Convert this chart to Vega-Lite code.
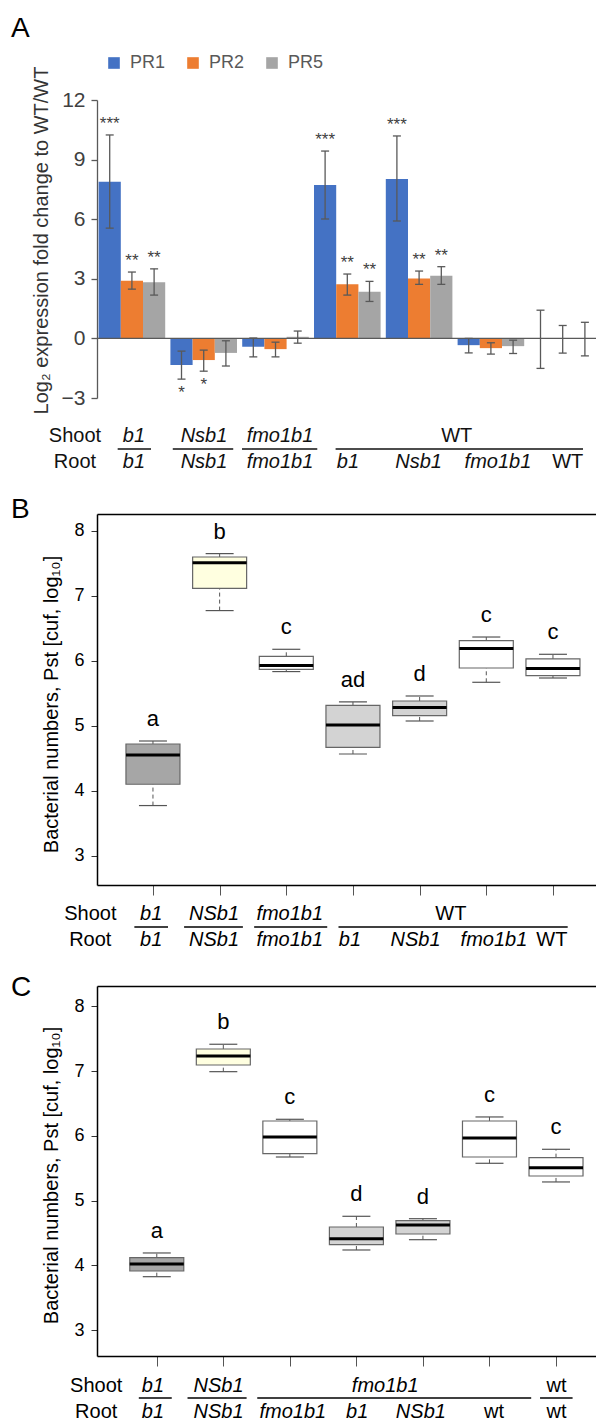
{
  "$schema": "https://vega.github.io/schema/vega-lite/v6.json",
  "background": "white",
  "padding": {"left": 11, "top": 15, "right": 0, "bottom": 0},
  "spacing": 23,
  "config": {
    "view": {"stroke": null},
    "font": "Liberation Sans",
    "axis": {"grid": false},
    "title": {"fontSize": 28, "fontWeight": "normal", "color": "#000", "anchor": "start", "frame": "group", "baseline": "alphabetic", "dx": -86}
  },
  "datasets": {
    "expr": [
      {"grp": "b1/b1", "series": "PR1", "value": 7.89, "lo": 5.55, "hi": 10.24, "sig": "***"},
      {"grp": "b1/b1", "series": "PR2", "value": 2.90, "lo": 2.48, "hi": 3.34, "sig": "**"},
      {"grp": "b1/b1", "series": "PR5", "value": 2.83, "lo": 2.18, "hi": 3.50, "sig": "**"},
      {"grp": "Nsb1/Nsb1", "series": "PR1", "value": -1.34, "lo": -2.05, "hi": -0.64, "sig": "*"},
      {"grp": "Nsb1/Nsb1", "series": "PR2", "value": -1.09, "lo": -1.65, "hi": -0.59, "sig": "*"},
      {"grp": "Nsb1/Nsb1", "series": "PR5", "value": -0.73, "lo": -1.39, "hi": -0.12, "sig": ""},
      {"grp": "fmo1b1/fmo1b1", "series": "PR1", "value": -0.42, "lo": -0.93, "hi": 0.02, "sig": ""},
      {"grp": "fmo1b1/fmo1b1", "series": "PR2", "value": -0.54, "lo": -0.93, "hi": -0.19, "sig": ""},
      {"grp": "fmo1b1/fmo1b1", "series": "PR5", "value": 0.08, "lo": -0.24, "hi": 0.37, "sig": ""},
      {"grp": "WT/b1", "series": "PR1", "value": 7.72, "lo": 6.01, "hi": 9.43, "sig": "***"},
      {"grp": "WT/b1", "series": "PR2", "value": 2.72, "lo": 2.18, "hi": 3.24, "sig": "**"},
      {"grp": "WT/b1", "series": "PR5", "value": 2.35, "lo": 1.86, "hi": 2.87, "sig": "**"},
      {"grp": "WT/Nsb1", "series": "PR1", "value": 8.02, "lo": 5.91, "hi": 10.19, "sig": "***"},
      {"grp": "WT/Nsb1", "series": "PR2", "value": 3.02, "lo": 2.72, "hi": 3.39, "sig": "**"},
      {"grp": "WT/Nsb1", "series": "PR5", "value": 3.15, "lo": 2.72, "hi": 3.61, "sig": "**"},
      {"grp": "WT/fmo1b1", "series": "PR1", "value": -0.34, "lo": -0.73, "hi": 0.0, "sig": ""},
      {"grp": "WT/fmo1b1", "series": "PR2", "value": -0.49, "lo": -0.79, "hi": -0.22, "sig": ""},
      {"grp": "WT/fmo1b1", "series": "PR5", "value": -0.39, "lo": -0.76, "hi": -0.09, "sig": ""},
      {"grp": "WT/WT", "series": "PR1", "value": 0, "lo": -1.51, "hi": 1.42, "sig": ""},
      {"grp": "WT/WT", "series": "PR2", "value": 0, "lo": -0.74, "hi": 0.65, "sig": ""},
      {"grp": "WT/WT", "series": "PR5", "value": 0, "lo": -0.88, "hi": 0.81, "sig": ""}
    ],
    "labA": [
      {"t": "Shoot", "x": -0.309, "y": -4.92},
      {"t": "Root", "x": -0.309, "y": -6.23},
      {"t": "b1", "x": 0.519, "y": -4.92},
      {"t": "b1", "x": 0.519, "y": -6.23},
      {"t": "Nsb1", "x": 1.501, "y": -4.92},
      {"t": "Nsb1", "x": 1.501, "y": -6.23},
      {"t": "fmo1b1", "x": 2.567, "y": -4.92},
      {"t": "fmo1b1", "x": 2.567, "y": -6.23},
      {"t": "WT", "x": 5.047, "y": -4.92},
      {"t": "b1", "x": 3.52, "y": -6.23},
      {"t": "Nsb1", "x": 4.511, "y": -6.23},
      {"t": "fmo1b1", "x": 5.625, "y": -6.23},
      {"t": "WT", "x": 6.603, "y": -6.23}
    ],
    "linA": [
      {"x1": 0.290, "x2": 0.758, "y": -5.57},
      {"x1": 1.063, "x2": 1.911, "y": -5.57},
      {"x1": 2.034, "x2": 3.090, "y": -5.57},
      {"x1": 3.347, "x2": 6.818, "y": -5.57}
    ],
    "boxB": [
      {"g": "b1/b1", "pos": 1, "lo": 3.770, "q1": 4.098, "med": 4.549, "q3": 4.718, "hi": 4.764, "letter": "a"},
      {"g": "NSb1/NSb1", "pos": 2, "lo": 6.772, "q1": 7.115, "med": 7.510, "q3": 7.597, "hi": 7.649, "letter": "b"},
      {"g": "fmo1b1/fmo1b1", "pos": 3, "lo": 5.833, "q1": 5.868, "med": 5.925, "q3": 6.068, "hi": 6.176, "letter": "c"},
      {"g": "WT/b1", "pos": 4, "lo": 4.564, "q1": 4.667, "med": 5.010, "q3": 5.314, "hi": 5.365, "letter": "ad"},
      {"g": "WT/NSb1", "pos": 5, "lo": 5.072, "q1": 5.155, "med": 5.278, "q3": 5.380, "hi": 5.457, "letter": "d"},
      {"g": "WT/fmo1b1", "pos": 6, "lo": 5.668, "q1": 5.888, "med": 6.187, "q3": 6.310, "hi": 6.365, "letter": "c"},
      {"g": "WT/WT", "pos": 7, "lo": 5.734, "q1": 5.771, "med": 5.879, "q3": 6.027, "hi": 6.099, "letter": "c"}
    ],
    "labB": [
      {"t": "Shoot", "x": 0.06, "y": 2.10},
      {"t": "Root", "x": 0.06, "y": 1.70},
      {"t": "b1", "x": 0.974, "y": 2.10},
      {"t": "b1", "x": 0.974, "y": 1.70},
      {"t": "NSb1", "x": 1.917, "y": 2.10},
      {"t": "NSb1", "x": 1.917, "y": 1.70},
      {"t": "fmo1b1", "x": 3.052, "y": 2.10},
      {"t": "fmo1b1", "x": 3.052, "y": 1.70},
      {"t": "WT", "x": 5.469, "y": 2.10},
      {"t": "b1", "x": 3.955, "y": 1.70},
      {"t": "NSb1", "x": 4.939, "y": 1.70},
      {"t": "fmo1b1", "x": 6.115, "y": 1.70},
      {"t": "WT", "x": 6.983, "y": 1.70}
    ],
    "linB": [
      {"x1": 0.721, "x2": 1.226, "y": 1.90},
      {"x1": 1.467, "x2": 2.349, "y": 1.90},
      {"x1": 2.518, "x2": 3.614, "y": 1.90},
      {"x1": 3.783, "x2": 7.221, "y": 1.90}
    ],
    "boxC": [
      {"g": "b1/b1", "pos": 1, "lo": 3.827, "q1": 3.915, "med": 4.023, "q3": 4.120, "hi": 4.193, "letter": "a"},
      {"g": "NSb1/NSb1", "pos": 2, "lo": 6.991, "q1": 7.094, "med": 7.233, "q3": 7.341, "hi": 7.414, "letter": "b"},
      {"g": "fmo1b1/fmo1b1", "pos": 3, "lo": 5.674, "q1": 5.725, "med": 5.983, "q3": 6.230, "hi": 6.256, "letter": "c"},
      {"g": "fmo1b1/b1", "pos": 4, "lo": 4.239, "q1": 4.321, "med": 4.414, "q3": 4.594, "hi": 4.759, "letter": "d"},
      {"g": "fmo1b1/NSb1", "pos": 5, "lo": 4.398, "q1": 4.486, "med": 4.625, "q3": 4.691, "hi": 4.722, "letter": "d"},
      {"g": "fmo1b1/wt", "pos": 6, "lo": 5.577, "q1": 5.674, "med": 5.968, "q3": 6.230, "hi": 6.292, "letter": "c"},
      {"g": "wt/wt", "pos": 7, "lo": 5.289, "q1": 5.381, "med": 5.509, "q3": 5.664, "hi": 5.793, "letter": "c"}
    ],
    "labC": [
      {"t": "Shoot", "x": 0.09, "y": 2.135},
      {"t": "Root", "x": 0.09, "y": 1.745},
      {"t": "b1", "x": 0.943, "y": 2.135},
      {"t": "b1", "x": 0.943, "y": 1.745},
      {"t": "NSb1", "x": 1.929, "y": 2.135},
      {"t": "NSb1", "x": 1.929, "y": 1.745},
      {"t": "fmo1b1", "x": 4.433, "y": 2.135},
      {"t": "wt", "x": 7.007, "y": 2.135},
      {"t": "fmo1b1", "x": 3.044, "y": 1.745},
      {"t": "b1", "x": 4.012, "y": 1.745},
      {"t": "NSb1", "x": 4.969, "y": 1.745},
      {"t": "wt", "x": 6.068, "y": 1.745},
      {"t": "wt", "x": 7.007, "y": 1.745}
    ],
    "linC": [
      {"x1": 0.730, "x2": 1.225, "y": 1.955},
      {"x1": 1.462, "x2": 2.350, "y": 1.955},
      {"x1": 2.510, "x2": 6.627, "y": 1.955},
      {"x1": 6.760, "x2": 7.249, "y": 1.955}
    ]
  },
  "vconcat": [
    {
      "title": {"text": "A", "offset": 11},
      "width": 499,
      "height": 298,
      "resolve": {"scale": {"x": "independent"}},
      "layer": [
        {
          "data": {"name": "expr"},
          "encoding": {
            "x": {"field": "grp", "type": "nominal", "axis": null,
                  "scale": {"type": "band", "domain": ["b1/b1", "Nsb1/Nsb1", "fmo1b1/fmo1b1", "WT/b1", "WT/Nsb1", "WT/fmo1b1", "WT/WT"], "paddingInner": 0.0724, "paddingOuter": 0.0112, "align": 1, "round": false}},
            "xOffset": {"field": "series", "type": "nominal", "scale": {"domain": ["PR1", "PR2", "PR5"], "paddingInner": 0, "paddingOuter": 0}}
          },
          "layer": [
            {
              "mark": {"type": "bar"},
              "encoding": {
                "y": {"field": "value", "type": "quantitative", "scale": {"domain": [-3, 12], "nice": false, "zero": false},
                      "axis": {"values": [-3, 0, 3, 6, 9, 12], "grid": false, "domainColor": "#595959", "domainWidth": 1.3, "tickColor": "#595959", "tickSize": 6, "tickWidth": 1.3, "labelFontSize": 21, "labelColor": "#404040", "labelPadding": 6,
                               "title": "Log₂ expression fold change to WT/WT", "titleFontSize": 20, "titleFontWeight": "normal", "titleColor": "#333", "titleAngle": 270, "titleAlign": "center", "titleBaseline": "middle", "titleX": -55.5, "titleY": 140}},
                "color": {"field": "series", "type": "nominal",
                          "scale": {"domain": ["PR1", "PR2", "PR5"], "range": ["#4472C4", "#ED7D31", "#A5A5A5"]},
                          "legend": {"orient": "none", "legendX": 8, "legendY": -46, "direction": "horizontal", "title": null, "symbolType": "square", "symbolSize": 135, "symbolStrokeWidth": 0, "symbolOpacity": 1, "labelFontSize": 18, "labelColor": "#595959", "columnPadding": 18, "labelOffset": 7}}
              }
            },
            {
              "mark": {"type": "rule", "color": "#595959", "strokeWidth": 1.3},
              "encoding": {
                "y": {"field": "lo", "type": "quantitative", "scale": {"domain": [-3, 12], "nice": false, "zero": false}},
                "y2": {"field": "hi"}
              }
            },
            {
              "mark": {"type": "tick", "orient": "horizontal", "size": 8, "thickness": 1.3, "color": "#595959", "opacity": 1},
              "encoding": {"y": {"field": "lo", "type": "quantitative", "scale": {"domain": [-3, 12], "nice": false, "zero": false}}}
            },
            {
              "mark": {"type": "tick", "orient": "horizontal", "size": 8, "thickness": 1.3, "color": "#595959", "opacity": 1},
              "encoding": {"y": {"field": "hi", "type": "quantitative", "scale": {"domain": [-3, 12], "nice": false, "zero": false}}}
            },
            {
              "transform": [{"filter": "datum.sig != '' && datum.value > 0"}],
              "mark": {"type": "text", "dy": -6, "fontSize": 17, "color": "#404040", "baseline": "alphabetic"},
              "encoding": {
                "y": {"field": "hi", "type": "quantitative", "scale": {"domain": [-3, 12], "nice": false, "zero": false}},
                "text": {"field": "sig"}
              }
            },
            {
              "transform": [{"filter": "datum.sig != '' && datum.value < 0"}],
              "mark": {"type": "text", "dy": 19, "fontSize": 17, "color": "#404040", "baseline": "alphabetic"},
              "encoding": {
                "y": {"field": "lo", "type": "quantitative", "scale": {"domain": [-3, 12], "nice": false, "zero": false}},
                "text": {"field": "sig"}
              }
            }
          ]
        },
        {
          "data": {"values": [{}]},
          "mark": {"type": "rule", "color": "#595959", "strokeWidth": 1.3},
          "encoding": {"y": {"datum": 0, "type": "quantitative", "scale": {"domain": [-3, 12], "nice": false, "zero": false}}}
        },
        {
          "data": {"name": "labA"},
          "encoding": {
            "x": {"field": "x", "type": "quantitative", "scale": {"domain": [0, 7], "nice": false, "zero": false}, "axis": null},
            "y": {"field": "y", "type": "quantitative", "scale": {"domain": [-3, 12], "nice": false, "zero": false}},
            "text": {"field": "t"}
          },
          "layer": [
            {"transform": [{"filter": "indexof(['Shoot','Root','WT','wt'], datum.t) < 0"}], "mark": {"type": "text", "fontStyle": "italic", "fontSize": 20, "baseline": "middle", "color": "#111"}},
            {"transform": [{"filter": "indexof(['Shoot','Root','WT','wt'], datum.t) >= 0"}], "mark": {"type": "text", "fontSize": 20, "baseline": "middle", "color": "#111"}}
          ]
        },
        {
          "data": {"name": "linA"},
          "mark": {"type": "rule", "color": "#111", "strokeWidth": 1.6},
          "encoding": {
            "x": {"field": "x1", "type": "quantitative", "scale": {"domain": [0, 7], "nice": false, "zero": false}, "axis": null},
            "x2": {"field": "x2"},
            "y": {"field": "y", "type": "quantitative", "scale": {"domain": [-3, 12], "nice": false, "zero": false}}
          }
        }
      ]
    },
    {
      "title": {"text": "B", "offset": -10},
      "width": 499,
      "height": 371,
      "resolve": {"axis": {"x": "independent"}},
      "layer": [
        {
          "data": {"name": "boxB"},
          "encoding": {
            "x": {"field": "pos", "type": "quantitative", "scale": {"domain": [0.2356, 7.5706], "nice": false, "zero": false},
                  "axis": {"values": [1, 2, 3, 4, 5, 6, 7], "labels": false, "grid": false, "domainColor": "#000", "domainWidth": 1.5, "tickColor": "#555", "tickSize": 10, "tickWidth": 1, "title": null}}
          },
          "layer": [
            {"mark": {"type": "rule", "strokeDash": [4, 3], "color": "#555", "strokeWidth": 1},
             "encoding": {"y": {"field": "lo", "type": "quantitative", "scale": {"domain": [2.547, 8.259], "nice": false, "zero": false}}, "y2": {"field": "q1"}}},
            {"mark": {"type": "rule", "strokeDash": [4, 3], "color": "#555", "strokeWidth": 1},
             "encoding": {"y": {"field": "q3", "type": "quantitative", "scale": {"domain": [2.547, 8.259], "nice": false, "zero": false}}, "y2": {"field": "hi"}}},
            {"mark": {"type": "tick", "orient": "horizontal", "size": 28, "thickness": 1.2, "color": "#555", "opacity": 1},
             "encoding": {"y": {"field": "lo", "type": "quantitative", "scale": {"domain": [2.547, 8.259], "nice": false, "zero": false}}}},
            {"mark": {"type": "tick", "orient": "horizontal", "size": 28, "thickness": 1.2, "color": "#555", "opacity": 1},
             "encoding": {"y": {"field": "hi", "type": "quantitative", "scale": {"domain": [2.547, 8.259], "nice": false, "zero": false}}}},
            {"mark": {"type": "bar", "size": 54, "stroke": "#666", "strokeWidth": 1.2},
             "encoding": {
               "y": {"field": "q1", "type": "quantitative", "scale": {"domain": [2.547, 8.259], "nice": false, "zero": false},
                     "axis": {"values": [3, 4, 5, 6, 7, 8], "format": "d", "grid": false, "domainColor": "#000", "domainWidth": 1.5, "tickColor": "#333", "tickSize": 6, "tickWidth": 1, "labelFontSize": 18, "labelColor": "#000", "labelPadding": 7,
                              "title": "Bacterial numbers, Pst [cuf, log₁₀]", "titleFontSize": 20, "titleFontWeight": "normal", "titleColor": "#000", "titleAngle": 270, "titleAlign": "center", "titleBaseline": "middle", "titleX": -45.5, "titleY": 190}},
               "y2": {"field": "q3"},
               "fill": {"field": "g", "type": "nominal", "legend": null,
                        "scale": {"domain": ["b1/b1", "NSb1/NSb1", "fmo1b1/fmo1b1", "WT/b1", "WT/NSb1", "WT/fmo1b1", "WT/WT"], "range": ["#a6a6a6", "#ffffe0", "#ffffff", "#d3d3d3", "#d3d3d3", "#ffffff", "#ffffff"]}}
             }},
            {"mark": {"type": "tick", "orient": "horizontal", "size": 54, "thickness": 3, "color": "#000", "opacity": 1},
             "encoding": {"y": {"field": "med", "type": "quantitative", "scale": {"domain": [2.547, 8.259], "nice": false, "zero": false}}}},
            {"mark": {"type": "text", "dy": -15, "fontSize": 22, "baseline": "alphabetic", "color": "#000"},
             "encoding": {"y": {"field": "hi", "type": "quantitative", "scale": {"domain": [2.547, 8.259], "nice": false, "zero": false}}, "text": {"field": "letter"}}}
          ]
        },
        {
          "data": {"name": "labB"},
          "encoding": {
            "x": {"field": "x", "type": "quantitative", "scale": {"domain": [0.2356, 7.5706], "nice": false, "zero": false},
                  "axis": {"orient": "top", "ticks": false, "labels": false, "grid": false, "domainColor": "#000", "domainWidth": 1.5, "title": null}},
            "y": {"field": "y", "type": "quantitative", "scale": {"domain": [2.547, 8.259], "nice": false, "zero": false}},
            "text": {"field": "t"}
          },
          "layer": [
            {"transform": [{"filter": "indexof(['Shoot','Root','WT','wt'], datum.t) < 0"}], "mark": {"type": "text", "fontStyle": "italic", "fontSize": 20, "baseline": "middle", "color": "#000"}},
            {"transform": [{"filter": "indexof(['Shoot','Root','WT','wt'], datum.t) >= 0"}], "mark": {"type": "text", "fontSize": 20, "baseline": "middle", "color": "#000"}}
          ]
        },
        {
          "data": {"name": "linB"},
          "mark": {"type": "rule", "color": "#000", "strokeWidth": 1.6},
          "encoding": {
            "x": {"field": "x1", "type": "quantitative", "scale": {"domain": [0.2356, 7.5706], "nice": false, "zero": false}, "axis": null},
            "x2": {"field": "x2"},
            "y": {"field": "y", "type": "quantitative", "scale": {"domain": [2.547, 8.259], "nice": false, "zero": false}}
          }
        }
      ]
    },
    {
      "title": {"text": "C", "offset": -16},
      "width": 499,
      "height": 370,
      "resolve": {"axis": {"x": "independent"}},
      "layer": [
        {
          "data": {"name": "boxC"},
          "encoding": {
            "x": {"field": "pos", "type": "quantitative", "scale": {"domain": [0.1767, 7.5258], "nice": false, "zero": false},
                  "axis": {"values": [1, 2, 3, 4, 5, 6, 7], "labels": false, "grid": false, "domainColor": "#000", "domainWidth": 1.5, "tickColor": "#555", "tickSize": 10, "tickWidth": 1, "title": null}}
          },
          "layer": [
            {"mark": {"type": "rule", "strokeDash": [4, 3], "color": "#555", "strokeWidth": 1},
             "encoding": {"y": {"field": "lo", "type": "quantitative", "scale": {"domain": [2.603, 8.313], "nice": false, "zero": false}}, "y2": {"field": "q1"}}},
            {"mark": {"type": "rule", "strokeDash": [4, 3], "color": "#555", "strokeWidth": 1},
             "encoding": {"y": {"field": "q3", "type": "quantitative", "scale": {"domain": [2.603, 8.313], "nice": false, "zero": false}}, "y2": {"field": "hi"}}},
            {"mark": {"type": "tick", "orient": "horizontal", "size": 28, "thickness": 1.2, "color": "#555", "opacity": 1},
             "encoding": {"y": {"field": "lo", "type": "quantitative", "scale": {"domain": [2.603, 8.313], "nice": false, "zero": false}}}},
            {"mark": {"type": "tick", "orient": "horizontal", "size": 28, "thickness": 1.2, "color": "#555", "opacity": 1},
             "encoding": {"y": {"field": "hi", "type": "quantitative", "scale": {"domain": [2.603, 8.313], "nice": false, "zero": false}}}},
            {"mark": {"type": "bar", "size": 54, "stroke": "#666", "strokeWidth": 1.2},
             "encoding": {
               "y": {"field": "q1", "type": "quantitative", "scale": {"domain": [2.603, 8.313], "nice": false, "zero": false},
                     "axis": {"values": [3, 4, 5, 6, 7, 8], "format": "d", "grid": false, "domainColor": "#000", "domainWidth": 1.5, "tickColor": "#333", "tickSize": 6, "tickWidth": 1, "labelFontSize": 18, "labelColor": "#000", "labelPadding": 7,
                              "title": "Bacterial numbers, Pst [cuf, log₁₀]", "titleFontSize": 20, "titleFontWeight": "normal", "titleColor": "#000", "titleAngle": 270, "titleAlign": "center", "titleBaseline": "middle", "titleX": -45.5, "titleY": 189}},
               "y2": {"field": "q3"},
               "fill": {"field": "g", "type": "nominal", "legend": null,
                        "scale": {"domain": ["b1/b1", "NSb1/NSb1", "fmo1b1/fmo1b1", "fmo1b1/b1", "fmo1b1/NSb1", "fmo1b1/wt", "wt/wt"], "range": ["#a6a6a6", "#ffffe0", "#ffffff", "#d3d3d3", "#d3d3d3", "#ffffff", "#ffffff"]}}
             }},
            {"mark": {"type": "tick", "orient": "horizontal", "size": 54, "thickness": 3, "color": "#000", "opacity": 1},
             "encoding": {"y": {"field": "med", "type": "quantitative", "scale": {"domain": [2.603, 8.313], "nice": false, "zero": false}}}},
            {"mark": {"type": "text", "dy": -15, "fontSize": 22, "baseline": "alphabetic", "color": "#000"},
             "encoding": {"y": {"field": "hi", "type": "quantitative", "scale": {"domain": [2.603, 8.313], "nice": false, "zero": false}}, "text": {"field": "letter"}}}
          ]
        },
        {
          "data": {"name": "labC"},
          "encoding": {
            "x": {"field": "x", "type": "quantitative", "scale": {"domain": [0.1767, 7.5258], "nice": false, "zero": false},
                  "axis": {"orient": "top", "ticks": false, "labels": false, "grid": false, "domainColor": "#000", "domainWidth": 1.5, "title": null}},
            "y": {"field": "y", "type": "quantitative", "scale": {"domain": [2.603, 8.313], "nice": false, "zero": false}},
            "text": {"field": "t"}
          },
          "layer": [
            {"transform": [{"filter": "indexof(['Shoot','Root','WT','wt'], datum.t) < 0"}], "mark": {"type": "text", "fontStyle": "italic", "fontSize": 20, "baseline": "middle", "color": "#000"}},
            {"transform": [{"filter": "indexof(['Shoot','Root','WT','wt'], datum.t) >= 0"}], "mark": {"type": "text", "fontSize": 20, "baseline": "middle", "color": "#000"}}
          ]
        },
        {
          "data": {"name": "linC"},
          "mark": {"type": "rule", "color": "#000", "strokeWidth": 1.6},
          "encoding": {
            "x": {"field": "x1", "type": "quantitative", "scale": {"domain": [0.1767, 7.5258], "nice": false, "zero": false}, "axis": null},
            "x2": {"field": "x2"},
            "y": {"field": "y", "type": "quantitative", "scale": {"domain": [2.603, 8.313], "nice": false, "zero": false}}
          }
        }
      ]
    }
  ],
  "resolve": {"scale": {"color": "independent", "fill": "independent"}, "legend": {"color": "independent", "fill": "independent"}}
}
